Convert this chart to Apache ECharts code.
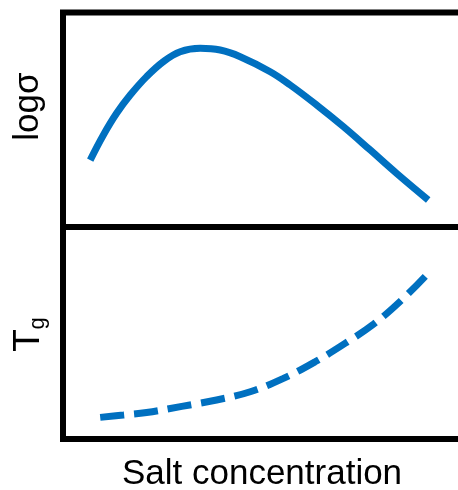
<!DOCTYPE html>
<html>
<head>
<meta charset="utf-8">
<style>
  html, body { margin: 0; padding: 0; background: #ffffff; }
  #chart { width: 458px; height: 490px; }
</style>
<script src="https://cdn.jsdelivr.net/npm/echarts@6/dist/echarts.min.js"></script>
</head>
<body>
<div id="chart"></div>
<script>
// Conductivity (log σ) versus salt concentration, arbitrary units
const sigmaX = [0.68, 1.01, 1.34, 1.68, 2.09, 2.51, 2.93, 3.43, 3.93, 4.43, 5.18, 5.68, 6.34, 7.01, 7.68, 8.34, 9.13];
const sigmaY = [3.12, 4.29, 5.30, 6.15, 7.01, 7.71, 8.17, 8.33, 8.25, 7.94, 7.24, 6.62, 5.69, 4.68, 3.59, 2.50, 1.26];

// Glass transition temperature versus salt concentration, arbitrary units
const tgX = [0.93, 1.51, 2.09, 2.97, 3.84, 4.68, 5.51, 6.30, 7.05, 7.76, 8.47, 9.13];
const tgY = [1.02, 1.13, 1.25, 1.54, 1.84, 2.23, 2.86, 3.64, 4.51, 5.41, 6.56, 7.82];

const xLabel = 'Salt concentration';
const sigmaLabel = 'logσ';
const tgMain = 'T';
const tgSub = 'g';

const blue = '#0070C0';
const font = '"Liberation Sans", Arial, sans-serif';

const pairs = (xs, ys) => xs.map((x, i) => [x, ys[i]]);

const chart = echarts.init(document.getElementById('chart'), null, { renderer: 'canvas' });

const hiddenAxisParts = {
  axisLine: { show: false },
  axisTick: { show: false },
  axisLabel: { show: false },
  splitLine: { show: false }
};

// Both panels run past the right edge so only the left, top and bottom frame lines show
const panel = (top, height) => ({
  left: 63, width: 400, top: top, height: height, show: true,
  outerBoundsMode: 'none', containLabel: false,
  borderColor: '#000000', borderWidth: 6, backgroundColor: 'transparent'
});

chart.setOption({
  animation: false,
  backgroundColor: '#ffffff',
  grid: [panel(12.5, 214.5), panel(227, 212)],
  xAxis: [
    Object.assign({ type: 'value', gridIndex: 0, min: 0, max: 10 }, hiddenAxisParts),
    Object.assign({ type: 'value', gridIndex: 1, min: 0, max: 10 }, hiddenAxisParts)
  ],
  yAxis: [
    Object.assign({ type: 'value', gridIndex: 0, min: 0, max: 10 }, hiddenAxisParts),
    Object.assign({ type: 'value', gridIndex: 1, min: 0, max: 10 }, hiddenAxisParts)
  ],
  series: [
    {
      type: 'line', xAxisIndex: 0, yAxisIndex: 0,
      data: pairs(sigmaX, sigmaY),
      smooth: 0.4, showSymbol: false, symbol: 'none',
      lineStyle: { color: blue, width: 7, cap: 'butt' }
    },
    {
      type: 'line', xAxisIndex: 1, yAxisIndex: 1,
      data: pairs(tgX, tgY),
      smooth: 0.4, showSymbol: false, symbol: 'none',
      lineStyle: { color: blue, width: 7, type: [24, 10], cap: 'butt' }
    }
  ],
  graphic: [
    { type: 'text', x: 28, y: 106.5, rotation: Math.PI / 2,
      style: { text: sigmaLabel, font: '35px ' + font, fill: '#000000',
               align: 'center', verticalAlign: 'middle' } },
    { type: 'text', x: 28.5, y: 340.5, rotation: Math.PI / 2,
      style: { text: tgMain, font: '37px ' + font, fill: '#000000',
               align: 'center', verticalAlign: 'middle' } },
    { type: 'text', x: 38, y: 323.5, rotation: Math.PI / 2,
      style: { text: tgSub, font: '22px ' + font, fill: '#000000',
               align: 'center', verticalAlign: 'middle' } },
    { type: 'text', x: 262, y: 474.5,
      style: { text: xLabel, font: '35px ' + font, fill: '#000000',
               align: 'center', verticalAlign: 'middle' } }
  ]
});
</script>
</body>
</html>
